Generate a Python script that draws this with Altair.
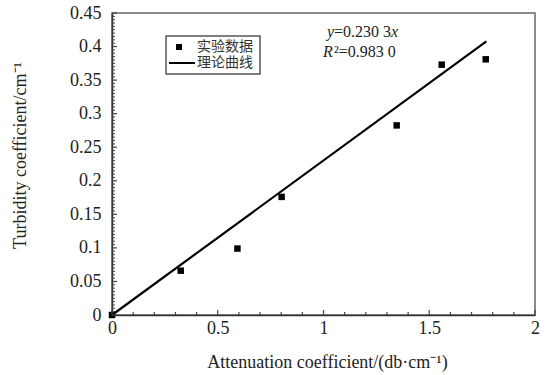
import altair as alt
import pandas as pd

# Experimental data
atten = [0.0, 0.325, 0.593, 0.802, 1.346, 1.559, 1.767]
turbid = [0.0, 0.066, 0.099, 0.176, 0.2825, 0.373, 0.381]

# Fitted line endpoints (y = 0.2303x)
fit_x = [0.0, 1.77]
fit_y = [0.0, 0.4076]

# Axis tick values
x_ticks = [0, 0.5, 1, 1.5, 2]
x_minor = [round(i * 0.1, 2) for i in range(21)]
y_ticks = [round(i * 0.05, 2) for i in range(10)]
y_minor = [round(i * 0.005, 3) for i in range(91)]

W, H = 423, 302
FONT = "Liberation Serif"
CJK = "Noto Sans CJK SC"

xs = alt.Scale(domain=[0, 2], nice=False)
ys = alt.Scale(domain=[0, 0.45], nice=False)

x_axis = alt.Axis(values=x_ticks, title="Attenuation coefficient/(db·cm⁻¹)",
                  ticks=False, domain=True, domainColor="#333", domainWidth=1.5,
                  grid=False, labelFont=FONT, labelFontSize=18, labelColor="#222",
                  labelPadding=4, labelFlush=False, labelOverlap=False,
                  format="~g",
                  titleFont=FONT, titleFontSize=18, titleFontWeight="normal",
                  titleColor="#222", titleX=215, titleY=47,
                  titleAlign="center", titleBaseline="middle")
y_axis = alt.Axis(values=y_ticks, title="Turbidity coefficient/cm⁻¹",
                  ticks=False, domain=True, domainColor="#333", domainWidth=1.5,
                  grid=False, labelFont=FONT, labelFontSize=18, labelColor="#222",
                  labelPadding=11, labelFlush=False, labelOverlap=False,
                  format="~g",
                  titleFont=FONT, titleFontSize=18, titleFontWeight="normal",
                  titleColor="#222", titleX=-92, titleY=142, titleAngle=-90,
                  titleAlign="center", titleBaseline="middle")


def X(f="x"):
    return alt.X(f"{f}:Q", scale=xs, axis=x_axis)


def Y(f="y"):
    return alt.Y(f"{f}:Q", scale=ys, axis=y_axis)


pts_df = pd.DataFrame({"x": atten, "y": turbid})
fit_df = pd.DataFrame({"x": fit_x, "y": fit_y})

ymin_df = pd.DataFrame({"y": y_minor, "major": [abs(v / 0.05 - round(v / 0.05)) < 1e-6 for v in y_minor]})
xmin_df = pd.DataFrame({"x": x_minor, "major": [abs(v / 0.5 - round(v / 0.5)) < 1e-6 for v in x_minor]})

fit_line = alt.Chart(fit_df).mark_line(color="black", strokeWidth=2.2).encode(x=X(), y=Y())
points = alt.Chart(pts_df).mark_square(color="black", opacity=1, size=42).encode(x=X(), y=Y())

y_tick_minor = alt.Chart(ymin_df[~ymin_df["major"]]).mark_rule(color="#444", strokeWidth=1).encode(
    y=Y(), x=alt.value(0), x2=alt.value(3))
y_tick_major = alt.Chart(ymin_df[ymin_df["major"]]).mark_rule(color="#444", strokeWidth=1.2).encode(
    y=Y(), x=alt.value(0), x2=alt.value(5))
x_tick_minor = alt.Chart(xmin_df[~xmin_df["major"]]).mark_rule(color="#444", strokeWidth=1.2).encode(
    x=X(), y=alt.value(H), y2=alt.value(H - 3))
x_tick_major = alt.Chart(xmin_df[xmin_df["major"]]).mark_rule(color="#444", strokeWidth=1.2).encode(
    x=X(), y=alt.value(H), y2=alt.value(H - 5))

one = pd.DataFrame({"a": [0]})

# Legend box
leg_box = alt.Chart(one).mark_rect(fill="white", stroke="#555", strokeWidth=1.5).encode(
    x=alt.value(54), x2=alt.value(148), y=alt.value(23), y2=alt.value(61))
leg_sq = alt.Chart(one).mark_square(color="black", size=36, opacity=1).encode(
    x=alt.value(67), y=alt.value(34))
leg_ln = alt.Chart(one).mark_rule(color="black", strokeWidth=2).encode(
    x=alt.value(57), x2=alt.value(83), y=alt.value(50))
leg_t1 = alt.Chart(one).mark_text(text="实验数据", font=CJK, fontSize=14, align="left",
                                   baseline="middle", color="#333").encode(
    x=alt.value(85), y=alt.value(34))
leg_t2 = alt.Chart(one).mark_text(text="理论曲线", font=CJK, fontSize=14, align="left",
                                   baseline="middle", color="#333").encode(
    x=alt.value(85), y=alt.value(50))

# Equation annotation
eq_y = alt.Chart(one).mark_text(text="y", font=FONT, fontSize=16, fontStyle="italic",
                                align="left", baseline="middle", color="#222").encode(
    x=alt.value(215), y=alt.value(19))
eq_mid = alt.Chart(one).mark_text(text="=0.230 3", font=FONT, fontSize=16,
                                  align="left", baseline="middle", color="#222").encode(
    x=alt.value(222), y=alt.value(19))
eq_x = alt.Chart(one).mark_text(text="x", font=FONT, fontSize=16, fontStyle="italic",
                                align="left", baseline="middle", color="#222").encode(
    x=alt.value(279), y=alt.value(19))
r_R = alt.Chart(one).mark_text(text="R", font=FONT, fontSize=16, fontStyle="italic",
                               align="left", baseline="middle", color="#222").encode(
    x=alt.value(211), y=alt.value(39))
r_val = alt.Chart(one).mark_text(text="²=0.983 0", font=FONT, fontSize=16,
                                 align="left", baseline="middle", color="#222").encode(
    x=alt.value(222), y=alt.value(39))

chart = alt.layer(
    fit_line, points, y_tick_minor, y_tick_major, x_tick_minor, x_tick_major,
    leg_box, leg_sq, leg_ln, leg_t1, leg_t2,
    eq_y, eq_mid, eq_x, r_R, r_val,
).properties(
    width=W, height=H,
    autosize=alt.AutoSizeParams(type="none"),
    padding={"left": 112, "top": 13, "right": 18, "bottom": 60},
    background="white",
).configure_view(stroke="#666", strokeWidth=1.5).configure_axis(
    labelFont=FONT, titleFont=FONT
)

chart.save("out.html", embed_options={"renderer": "svg", "actions": False})
